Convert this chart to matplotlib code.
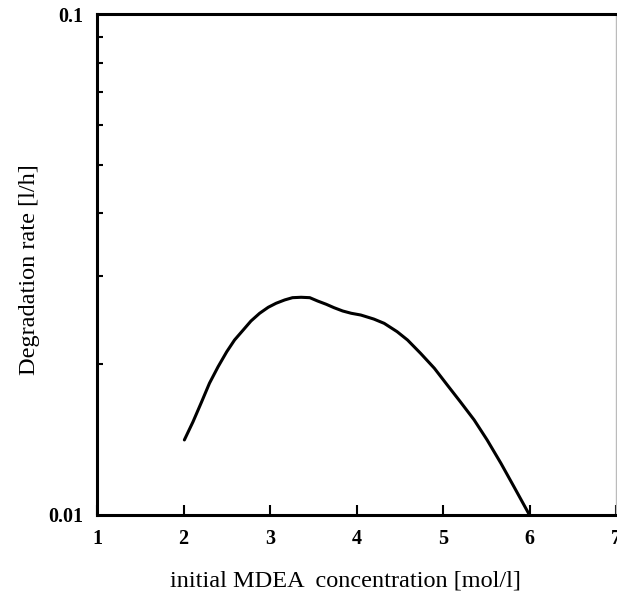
import matplotlib.pyplot as plt
from matplotlib.ticker import FixedLocator, NullFormatter, LogLocator

# Degradation rate vs initial MDEA concentration (log scale)
conc = [2.01, 2.11, 2.21, 2.30, 2.40, 2.50, 2.59, 2.69, 2.78, 2.88, 2.98, 3.07,
        3.17, 3.26, 3.36, 3.46, 3.55, 3.65, 3.74, 3.84, 3.94, 4.05, 4.20, 4.32,
        4.47, 4.59, 4.74, 4.90, 5.05, 5.20, 5.36, 5.51, 5.67, 5.82, 6.00]
rate = [0.01412, 0.01535, 0.01683, 0.01832, 0.01977, 0.02118, 0.02235, 0.02340,
        0.02439, 0.02527, 0.02598, 0.02646, 0.02687, 0.02715, 0.02720, 0.02715,
        0.02674, 0.02634, 0.02593, 0.02554, 0.02527, 0.02507, 0.02461, 0.02413,
        0.02322, 0.02235, 0.02103, 0.01963, 0.01817, 0.01683, 0.01548, 0.01412,
        0.01268, 0.01139, 0.01000]

x_ticks = [1, 2, 3, 4, 5, 6, 7]
y_ticks = [0.01, 0.1]
y_tick_labels = ['0.01', '0.1']

plt.rcParams['font.family'] = ['Liberation Serif', 'DejaVu Serif']

fig = plt.figure(figsize=(6.17, 5.95), dpi=100)
ax = fig.add_axes([97 / 617, 80 / 595, 519 / 617, 501 / 595])

ax.plot(conc, rate, color='black', linewidth=2.2, solid_capstyle='round')

ax.set_yscale('log')
ax.set_xlim(1, 7)
ax.set_ylim(0.01, 0.1)

ax.xaxis.set_major_locator(FixedLocator(x_ticks))
ax.set_xticklabels([str(t) for t in x_ticks], fontweight='bold', fontsize=14.5)
ax.yaxis.set_major_locator(FixedLocator(y_ticks))
ax.set_yticklabels(y_tick_labels, fontweight='bold', fontsize=14.5)
ax.yaxis.set_minor_locator(LogLocator(base=10, subs=range(2, 10)))
ax.yaxis.set_minor_formatter(NullFormatter())

ax.tick_params(axis='x', which='major', direction='in', length=7, width=1.5, pad=10)
ax.tick_params(axis='y', which='major', direction='in', length=0, pad=10)
ax.tick_params(axis='y', which='minor', direction='in', length=4, width=1.5)
ax.tick_params(top=False, right=False)

for side in ['left', 'bottom', 'top']:
    ax.spines[side].set_linewidth(2.2)
ax.spines['right'].set_linewidth(1.0)
ax.spines['right'].set_color('#bbbbbb')

ax.set_xlabel('initial MDEA  concentration [mol/l]', fontsize=17.5)
ax.xaxis.set_label_coords(0.478, -0.11)
ax.set_ylabel('Degradation rate [l/h]', fontsize=17.5)
ax.yaxis.set_label_coords(-0.11, 0.49)

fig.savefig('out.png', dpi=100)
